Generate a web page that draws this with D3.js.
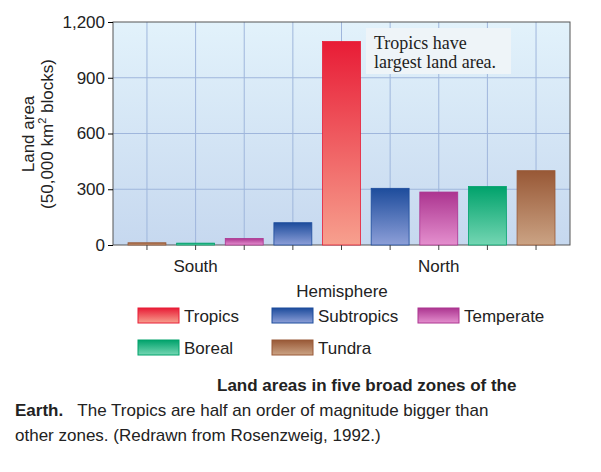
<!DOCTYPE html>
<html><head><meta charset="utf-8">
<script src="https://cdn.jsdelivr.net/npm/d3@7"></script>
<style>body{margin:0;background:#fff;font-family:"Liberation Sans",Arial,sans-serif;}</style>
</head><body>
<script>
var zones = ["Tundra","Boreal","Temperate","Subtropics","Tropics","Subtropics","Temperate","Boreal","Tundra"];
var values = [12, 10, 35, 120, 1095, 305, 285, 315, 400];
var yTicks = [0, 300, 600, 900, 1200];
var legendNames = ["Tropics","Subtropics","Temperate","Boreal","Tundra"];
var colors = {
  Tropics: ["#e81c36", "#f7a08e"],
  Subtropics: ["#1d4c9c", "#8d9fd8"],
  Temperate: ["#ac3590", "#e48fce"],
  Boreal: ["#00a26b", "#74d6b3"],
  Tundra: ["#985836", "#cba384"]
};

var svg = d3.select("body").append("svg").attr("width", 601).attr("height", 472);
var defs = svg.append("defs");
Object.keys(colors).forEach(function(k) {
  var g = defs.append("linearGradient").attr("id", "g" + k).attr("x1", 0).attr("y1", 0).attr("x2", 0).attr("y2", 1);
  g.append("stop").attr("offset", "0%").attr("stop-color", colors[k][0]);
  g.append("stop").attr("offset", "100%").attr("stop-color", colors[k][1]);
});
var bg = defs.append("linearGradient").attr("id", "bg").attr("x1", 0).attr("y1", 0).attr("x2", 0).attr("y2", 1);
bg.append("stop").attr("offset", "0%").attr("stop-color", "#e2f2fb");
bg.append("stop").attr("offset", "100%").attr("stop-color", "#c6d8ef");

var L = 113, R = 570, T = 22, B = 245;
var x = d3.scaleBand().domain(d3.range(values.length)).range([L + 15, R - 15]).paddingInner(0.22).paddingOuter(0);
var y = d3.scaleLinear().domain([0, 1200]).range([B, T]);

svg.append("rect").attr("x", L).attr("y", T).attr("width", R - L).attr("height", B - T).attr("fill", "url(#bg)");

svg.append("g").selectAll("line").data(d3.range(values.length)).enter().append("line")
  .attr("x1", function(d) { return x(d) + x.bandwidth() / 2; })
  .attr("x2", function(d) { return x(d) + x.bandwidth() / 2; })
  .attr("y1", T).attr("y2", B).attr("stroke", "#9fb6dc").attr("stroke-width", 1);
svg.append("g").selectAll("line").data(yTicks.slice(1, 4)).enter().append("line")
  .attr("x1", L).attr("x2", R).attr("y1", y).attr("y2", y).attr("stroke", "#9fb6dc");

svg.append("rect").attr("x", L).attr("y", T).attr("width", R - L).attr("height", B - T)
  .attr("fill", "none").attr("stroke", "#555");

svg.append("g").selectAll("rect").data(values).enter().append("rect")
  .attr("x", function(d, i) { return x(i); })
  .attr("width", x.bandwidth())
  .attr("y", function(d) { return y(d); })
  .attr("height", function(d) { return B - y(d); })
  .attr("fill", function(d, i) { return "url(#g" + zones[i] + ")"; })
  .attr("stroke", function(d, i) { return colors[zones[i]][0]; }).attr("stroke-width", 0.8);

var ya = svg.append("g").attr("transform", "translate(" + L + ",0)")
  .call(d3.axisLeft(y).tickValues(yTicks).tickSize(5).tickFormat(d3.format(",")));
ya.attr("font-size", 17).attr("font-family", "Liberation Sans, Arial");
ya.select(".domain").remove();
ya.selectAll("text").attr("fill", "#222");

var xa = svg.append("g").attr("transform", "translate(0," + B + ")")
  .call(d3.axisBottom(x).tickSize(5).tickFormat(""));
xa.select(".domain").remove();
xa.selectAll("line").attr("stroke", "#444");

svg.append("text").attr("x", x(1) + x.bandwidth() / 2).attr("y", 272).attr("text-anchor", "middle").attr("font-size", 17).attr("fill", "#222").text("South");
svg.append("text").attr("x", x(6) + x.bandwidth() / 2).attr("y", 272).attr("text-anchor", "middle").attr("font-size", 17).attr("fill", "#222").text("North");
svg.append("text").attr("x", 342).attr("y", 297).attr("text-anchor", "middle").attr("font-size", 17).attr("fill", "#222").text("Hemisphere");

var yl = svg.append("text").attr("transform", "translate(34,134) rotate(-90)").attr("text-anchor", "middle").attr("font-size", 17).attr("fill", "#222");
yl.append("tspan").attr("x", 0).attr("dy", 0).text("Land area");
var t2 = yl.append("tspan").attr("x", 0).attr("dy", 19).text("(50,000 km");
t2.append("tspan").attr("font-size", 11).attr("dy", -7).text("2");
yl.append("tspan").attr("dy", 7).text(" blocks)");

svg.append("rect").attr("x", 366).attr("y", 28).attr("width", 145).attr("height", 46).attr("fill", "#eef4f8");
svg.append("text").attr("x", 374).attr("y", 49).attr("font-family", "Liberation Serif, serif").attr("font-size", 18).attr("fill", "#222").text("Tropics have");
svg.append("text").attr("x", 374).attr("y", 68).attr("font-family", "Liberation Serif, serif").attr("font-size", 18).attr("fill", "#222").text("largest land area.");

var lpos = [[138, 308], [272, 308], [418, 308], [138, 340], [272, 340]];
var lg = svg.append("g").selectAll("g").data(legendNames).enter().append("g")
  .attr("transform", function(d, i) { return "translate(" + lpos[i][0] + "," + lpos[i][1] + ")"; });
lg.append("rect").attr("width", 41).attr("height", 15).attr("fill", function(d) { return "url(#g" + d + ")"; })
  .attr("stroke", function(d) { return colors[d][0]; });
lg.append("text").attr("x", 46).attr("y", 14).attr("font-size", 17).attr("fill", "#222").text(function(d) { return d; });

svg.append("text").attr("x", 217).attr("y", 391).attr("font-size", 17).attr("font-weight", "bold").attr("fill", "#222").text("Land areas in five broad zones of the");
var c2 = svg.append("text").attr("x", 15).attr("y", 416).attr("font-size", 17).attr("fill", "#222");
c2.append("tspan").attr("font-weight", "bold").text("Earth.");
c2.append("tspan").text("\u00a0\u00a0\u00a0The Tropics are half an order of magnitude bigger than");
svg.append("text").attr("x", 15).attr("y", 441).attr("font-size", 17).attr("fill", "#222").text("other zones. (Redrawn from Rosenzweig, 1992.)");
</script>
</body></html>
